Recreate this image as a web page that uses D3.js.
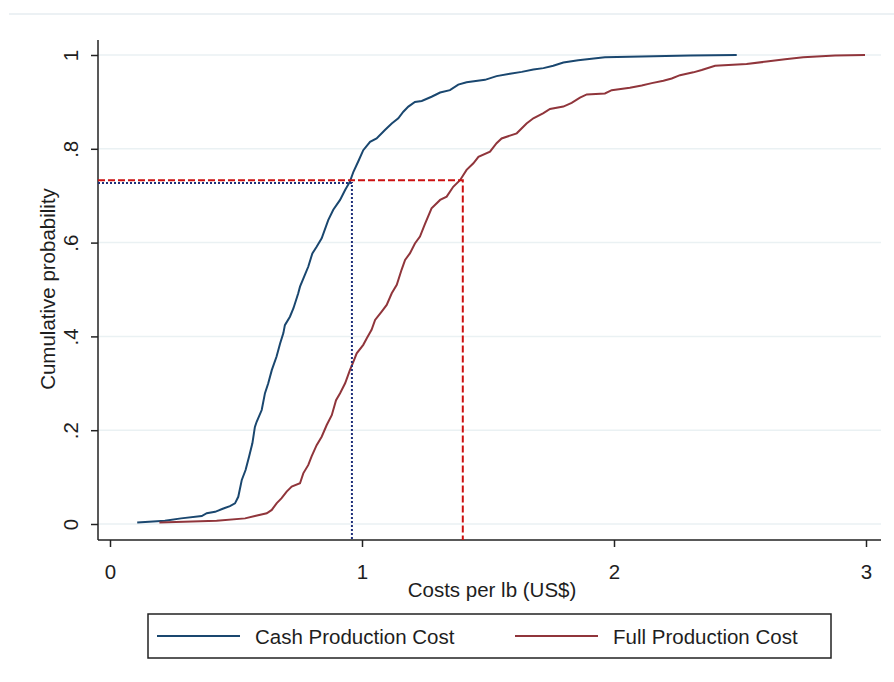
<!DOCTYPE html>
<html lang="en">
<head>
<meta charset="UTF-8">
<title>Cumulative cost distribution</title>
<script src="https://cdnjs.cloudflare.com/ajax/libs/d3/7.8.5/d3.min.js"></script>
<style>
    body { margin: 0; background: #fff; }
    svg text { font-family: "Liberation Sans", Arial, sans-serif; fill: #1e1e1e; }
</style>
</head>
<body>
<svg id="chart" width="894" height="682"></svg>
<script>
// cumulative distribution points
const cashX = [0.108,0.218,0.282,0.364,0.384,0.417,0.45,0.476,0.496,0.509,0.523,0.538,0.552,0.565,0.575,0.582,0.602,0.615,0.628,0.642,0.661,0.675,0.688,0.694,0.714,0.728,0.747,0.754,0.77,0.787,0.803,0.82,0.84,0.866,0.886,0.913,0.933,0.952,0.966,0.985,1.005,1.032,1.058,1.091,1.118,1.144,1.164,1.184,1.21,1.237,1.276,1.31,1.349,1.382,1.415,1.488,1.534,1.587,1.634,1.68,1.72,1.759,1.799,1.858,1.964,2.302,2.487];
const cashY = [0.003,0.007,0.012,0.017,0.023,0.026,0.033,0.038,0.044,0.058,0.094,0.115,0.144,0.172,0.207,0.218,0.243,0.279,0.3,0.328,0.357,0.385,0.407,0.424,0.442,0.46,0.492,0.506,0.527,0.549,0.577,0.591,0.609,0.648,0.67,0.691,0.712,0.73,0.751,0.773,0.797,0.815,0.822,0.84,0.854,0.865,0.879,0.89,0.9,0.902,0.911,0.92,0.925,0.937,0.942,0.947,0.955,0.96,0.964,0.969,0.972,0.977,0.984,0.989,0.995,0.999,1.0];

const fullX = [0.196,0.423,0.536,0.575,0.622,0.642,0.661,0.681,0.701,0.721,0.754,0.767,0.787,0.8,0.82,0.84,0.86,0.88,0.897,0.913,0.933,0.952,0.966,0.979,1.005,1.019,1.038,1.052,1.078,1.098,1.118,1.138,1.157,1.171,1.19,1.21,1.23,1.25,1.276,1.31,1.336,1.362,1.389,1.415,1.442,1.462,1.508,1.534,1.554,1.614,1.653,1.68,1.72,1.746,1.799,1.832,1.865,1.892,1.964,1.991,2.063,2.11,2.15,2.196,2.229,2.262,2.315,2.348,2.401,2.526,2.606,2.679,2.751,2.877,2.996];
const fullY = [0.003,0.007,0.012,0.017,0.023,0.03,0.044,0.055,0.069,0.08,0.087,0.108,0.126,0.144,0.168,0.186,0.211,0.232,0.264,0.279,0.3,0.328,0.346,0.364,0.382,0.396,0.414,0.435,0.453,0.467,0.492,0.51,0.542,0.563,0.577,0.598,0.613,0.64,0.673,0.691,0.698,0.719,0.733,0.755,0.769,0.783,0.794,0.812,0.822,0.833,0.854,0.865,0.876,0.885,0.89,0.898,0.909,0.916,0.918,0.925,0.93,0.935,0.94,0.945,0.95,0.957,0.963,0.968,0.977,0.981,0.986,0.991,0.995,0.999,1.0];

// reference lines (cost, probability)
const cashRef = [0.96, 0.727];
const fullRef = [1.40, 0.733];

const xTicks = [0, 1, 2, 3];
const yTicks = [0, 0.2, 0.4, 0.6, 0.8, 1];
const yTickLabels = ['0', '.2', '.4', '.6', '.8', '1'];
const seriesNames = ['Cash Production Cost', 'Full Production Cost'];

const blue = '#1a476f', red = '#90353b';
const fontSize = '20.5px';

const svg = d3.select('#chart');

// plot region edges
const plotLeft = 98, plotRight = 881, plotTop = 40, plotBottom = 540;

const x = d3.scaleLinear().domain([0, 3]).range([110, 866]);
const y = d3.scaleLinear().domain([0, 1]).range([524, 55]);

// faint frame line at top
svg.append('line')
    .attr('x1', 9).attr('x2', 894).attr('y1', 14).attr('y2', 14)
    .attr('stroke', '#e6edf1').attr('stroke-width', 1.5);

// gridlines
svg.append('g').selectAll('line')
    .data(yTicks)
    .enter().append('line')
    .attr('x1', plotLeft).attr('x2', plotRight)
    .attr('y1', d => y(d)).attr('y2', d => y(d))
    .attr('stroke', '#eaf1f3').attr('stroke-width', 1.5);

// y axis
const yAxis = svg.append('g')
    .attr('transform', `translate(${plotLeft},0)`)
    .call(d3.axisLeft(y).tickValues(yTicks).tickSize(7)
        .tickFormat((d, i) => yTickLabels[i]));
yAxis.select('.domain').remove();
yAxis.selectAll('.tick line').attr('stroke', '#222').attr('stroke-width', 1.5);
yAxis.selectAll('.tick text')
    .attr('x', 0).attr('dy', null)
    .attr('transform', 'translate(-28,0) rotate(-90)')
    .attr('text-anchor', 'middle')
    .attr('dominant-baseline', 'central')
    .style('font-size', fontSize);

// x axis
const xAxis = svg.append('g')
    .attr('transform', `translate(0,${plotBottom})`)
    .call(d3.axisBottom(x).tickValues(xTicks).tickSize(7).tickFormat(d3.format('d')));
xAxis.select('.domain').remove();
xAxis.selectAll('.tick line').attr('stroke', '#222').attr('stroke-width', 1.5);
xAxis.selectAll('.tick text').attr('y', 31).attr('dy', null)
    .attr('dominant-baseline', 'central')
    .style('font-size', fontSize);

// axis lines
svg.append('line').attr('x1', plotLeft).attr('x2', plotLeft).attr('y1', plotTop).attr('y2', plotBottom)
    .attr('stroke', '#222').attr('stroke-width', 1.5);
svg.append('line').attr('x1', plotLeft).attr('x2', plotRight).attr('y1', plotBottom).attr('y2', plotBottom)
    .attr('stroke', '#222').attr('stroke-width', 1.5);

// axis titles
svg.append('text')
    .attr('transform', 'translate(47,289) rotate(-90)')
    .attr('text-anchor', 'middle').attr('dominant-baseline', 'central')
    .style('font-size', fontSize)
    .text('Cumulative probability');
svg.append('text')
    .attr('x', 492).attr('y', 597)
    .attr('text-anchor', 'middle')
    .style('font-size', fontSize)
    .text('Costs per lb (US$)');

// curves
const line = d3.line().x(d => x(d[0])).y(d => y(d[1]));
svg.append('path')
    .datum(cashX.map((v, i) => [v, cashY[i]]))
    .attr('d', line).attr('fill', 'none')
    .attr('stroke', blue).attr('stroke-width', 2);
svg.append('path')
    .datum(fullX.map((v, i) => [v, fullY[i]]))
    .attr('d', line).attr('fill', 'none')
    .attr('stroke', red).attr('stroke-width', 2);

// reference lines
function refLine(ref, color, dash) {
    svg.append('path')
        .attr('d', `M${plotLeft},${y(ref[1])}H${x(ref[0])}V${plotBottom}`)
        .attr('fill', 'none').attr('stroke', color)
        .attr('stroke-width', 2).attr('stroke-dasharray', dash);
}
refLine(fullRef, '#cc1111', '7,3');
refLine(cashRef, '#1f2f7a', '2,2');

// legend
const legend = svg.append('g');
legend.append('rect')
    .attr('x', 148).attr('y', 614).attr('width', 683).attr('height', 44)
    .attr('fill', '#fff').attr('stroke', '#222').attr('stroke-width', 1.5);
const items = legend.selectAll('.item')
    .data(seriesNames)
    .enter().append('g')
    .attr('transform', (d, i) => `translate(${i ? 515 : 157},636)`);
items.append('line')
    .attr('x1', 0).attr('x2', 83)
    .attr('stroke', (d, i) => i ? red : blue).attr('stroke-width', 2);
items.append('text')
    .attr('x', 98).attr('y', 7.5)
    .style('font-size', fontSize)
    .text(d => d);
</script>
</body>
</html>
